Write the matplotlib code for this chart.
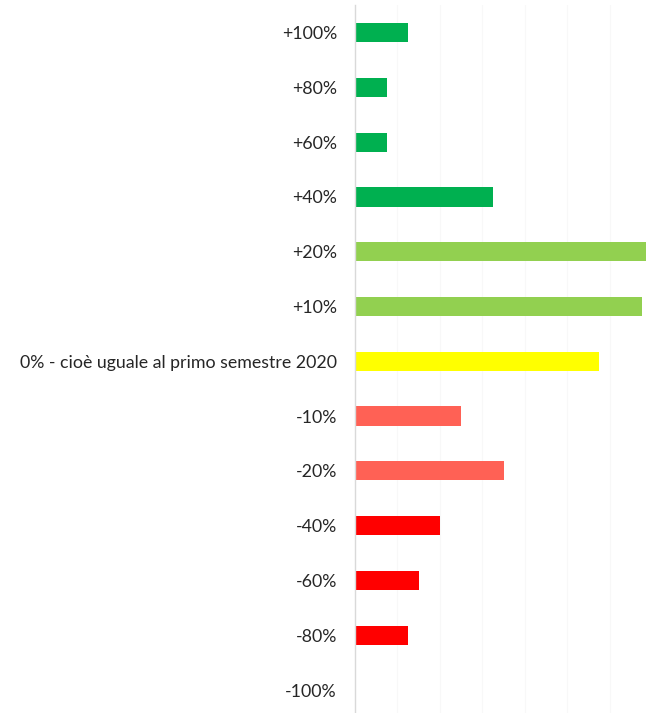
import matplotlib
matplotlib.use("Agg")
import matplotlib.pyplot as plt

categories = ["+100%", "+80%", "+60%", "+40%", "+20%", "+10%",
              "0% - cioè uguale al primo semestre 2020",
              "-10%", "-20%", "-40%", "-60%", "-80%", "-100%"]
values = [5, 3, 3, 13, 28, 27, 23, 10, 14, 8, 6, 5, 0]
colors = ["#00B050", "#00B050", "#00B050", "#00B050", "#92D050", "#92D050",
          "#FFFF00", "#FF6155", "#FF6155", "#FF0000", "#FF0000", "#FF0000", "#FF0000"]

plt.rcParams['font.family'] = ['Lato', 'DejaVu Sans']

fig = plt.figure(figsize=(6.46, 7.13), dpi=100)
ax = fig.add_axes([355/646, -4.4/713, 1 - 355/646, 1 - 0.6/713 + 4.4/713 - 4.6/713])

ypos = list(range(len(categories)))
ax.barh(ypos, values, height=0.35, color=colors, zorder=3)
ax.set_yticks(ypos)
ax.set_yticklabels(categories, fontsize=12.8, color="#262626")
ax.set_ylim(len(categories) - 0.5, -0.5)
ax.set_xlim(0, 27.4)
ax.set_xticks([4, 8, 12, 16, 20, 24])
ax.grid(axis='x', color="#f8f8f8", linewidth=0.8, zorder=0)
ax.tick_params(axis='y', length=0, pad=13)
ax.tick_params(axis='x', length=0, labelbottom=False)
for s in ["top", "right", "bottom"]:
    ax.spines[s].set_visible(False)
ax.spines["left"].set_color("#d9d9d9")
ax.spines["left"].set_linewidth(1.0)
ax.spines["left"].set_zorder(4)

fig.savefig("out.png", dpi=100)
